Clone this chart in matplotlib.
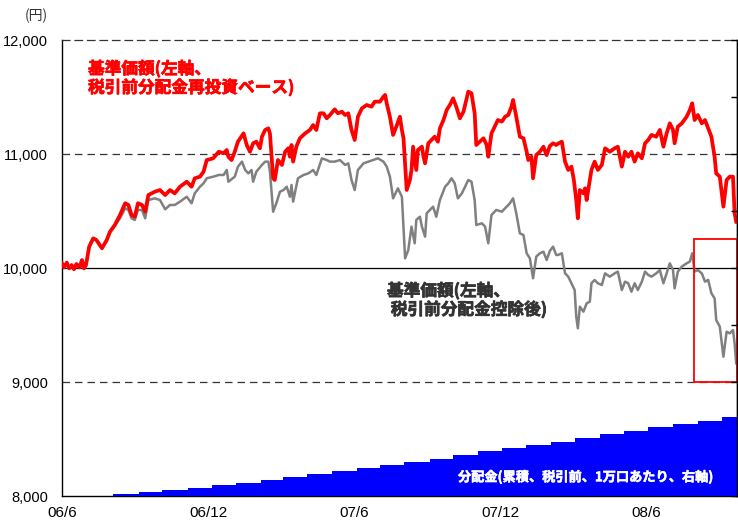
import matplotlib
matplotlib.use("Agg")
import matplotlib.pyplot as plt
import matplotlib.dates as mdates
import matplotlib.patheffects as pe
from matplotlib.patches import Rectangle
from matplotlib.ticker import FuncFormatter
import numpy as np
import pandas as pd

plt.rcParams['font.family'] = ['Liberation Sans', 'Noto Sans CJK JP', 'DejaVu Sans']
CJK = ['Noto Sans CJK JP', 'DejaVu Sans']

START = pd.Timestamp('2006-06-01')
END = pd.Timestamp('2008-09-22')

# ---- base price, dividends reinvested (red): days since 2006-06-01, value (yen)
red_days = [0, 2.5, 6, 9, 12, 15, 18, 22, 25, 27.5, 30, 34, 39, 43, 50, 56, 60, 66, 72.5, 79, 83, 87, 91, 95, 100,
            104, 108, 116, 122.5, 129, 135, 141, 147.5, 156, 162, 166, 172.5, 177, 181, 189, 196, 202, 206,
            208, 212, 216, 220, 227, 231, 235, 239, 243, 247.5, 250, 254, 258, 260, 264, 266, 270, 275, 279, 283,
            285, 287, 289, 293, 297.5, 304, 310, 314, 318, 322.5, 327, 331, 335, 341, 345, 350, 354, 358, 362,
            366, 370, 375, 381, 387, 391, 397.5, 402, 404, 406,
            410, 414, 418, 422.5, 425, 427, 431, 435, 437, 439, 443, 445, 450, 452, 454, 458, 462, 466, 470,
            472.5, 477, 481, 485, 489, 493, 497.5, 502, 506, 508, 512, 516, 518, 522.5, 527, 531, 533, 537, 541,
            545, 550, 554, 558, 562, 564, 568, 572.5, 577, 581, 583, 587, 589, 593, 597.5, 602, 606, 610, 614, 618,
            620, 625, 629, 633, 637, 640, 643, 645, 647.5, 652, 654, 656, 658, 662, 666, 670, 675, 679, 685, 691,
            695, 700, 704, 708, 712, 716, 720, 725, 729, 733, 737, 743, 747.5, 752, 756, 760, 764, 766, 770, 775,
            781, 785, 788, 791, 795, 800, 804, 808, 812, 816, 818, 822.5, 827, 831, 835, 839, 841, 843]
red_vals = [10041, 10006, 10047, 9997, 10026, 9989, 10035, 10006, 10070, 9997, 10026, 10187, 10260, 10246, 10173,
            10246, 10318, 10377, 10465, 10568, 10553, 10465, 10450, 10568, 10553, 10494, 10640, 10669, 10684, 10640,
            10684, 10655, 10713, 10757, 10713, 10787, 10801, 10845, 10947, 10962, 11020, 11006, 11035,
            10976, 10947, 11020, 11108, 11181, 11079, 11020, 11094, 11108, 11050, 11152, 11211, 11225, 11181, 10787,
            10772, 10947, 10904, 11020, 11050, 10976, 11079, 10933, 11064, 11138, 11181, 11211, 11254, 11211, 11357,
            11357, 11313, 11342, 11392, 11357, 11371, 11342, 11357, 11211, 11123, 11327, 11401, 11430, 11415, 11459,
            11459, 11503, 11518, 11445,
            11327, 11167, 11240, 11327, 11211, 11138, 10684, 10772, 10860, 11064, 10860, 11035, 11064, 10976, 10918,
            11094, 11123, 11152, 11108, 11225, 11298, 11386, 11430, 11488, 11415, 11313, 11371, 11488, 11547, 11532,
            11357, 11079, 11108, 11138, 11079, 10976, 11181, 11240, 11298, 11284, 11327, 11342, 11415, 11474, 11327,
            11152, 11138, 11020, 10947, 10976, 10787, 10991, 11020, 11064, 10990, 11070, 11094, 11079,
            11090, 11108, 10933, 10860, 10889, 10772, 10596, 10436, 10684, 10655, 10699, 10596, 10684, 10860, 10933,
            10860, 10904, 11050, 11020, 11050, 11064, 10889, 11020, 10976, 11020, 10933, 11006, 10962, 11094, 11123,
            11167, 11152, 11211, 11064, 11181, 11269, 11211, 11094, 11240, 11269, 11327, 11386, 11445, 11298, 11342,
            11269, 11298, 11225, 11152, 10976, 10830, 10801, 10538, 10772, 10801, 10801, 10480, 10406]

# ---- base price after distributions (gray)
gray_days = [0, 2.5, 6, 9, 12, 15, 18, 22, 25, 27.5, 30, 34, 39, 43, 50, 56, 60, 66, 72.5, 79, 83, 87, 91, 95, 100,
             104, 108, 116, 122.5, 129, 135, 141, 147.5, 156, 162, 166, 172.5, 177, 181, 189, 196, 202, 206, 208,
             216, 220, 225, 229, 233, 237, 239, 243, 250, 254, 258, 260, 264, 268, 272.5, 277, 281, 285, 287, 289,
             295, 302, 308, 314, 318, 325, 331, 335, 341, 347.5, 354, 358, 362, 366, 370, 377, 383, 389, 395, 402,
             406,
             410, 414, 420, 425, 429, 433, 437, 441, 443, 447.5, 450, 454, 456, 460, 464, 468, 472.5, 479, 483, 487,
             491, 495, 500, 504, 508, 512, 516, 518, 525, 529, 533, 537, 543, 550, 554, 560, 564, 568, 572.5, 577,
             581, 585, 589, 593, 597.5, 602, 606, 610, 614, 618,
             620, 625, 629, 633, 637, 641, 643, 645, 647.5, 652, 656, 660, 662, 666, 670, 675, 679, 685, 691, 695,
             700, 704, 708, 712, 716, 720, 725, 729, 733, 737, 743, 747.5, 752, 756, 760, 764, 766, 770, 775, 781,
             785, 788, 791, 795, 800, 804, 808, 812, 816, 818, 822.5, 827, 831, 835, 839, 841, 843]
gray_vals = [10041, 10006, 10047, 9997, 10026, 9989, 10035, 10006, 10070, 9997, 10026, 10187, 10260, 10246, 10173,
             10246, 10318, 10370, 10436, 10524, 10509, 10436, 10421, 10509, 10509, 10436, 10596, 10611, 10596, 10515,
             10553, 10553, 10582, 10625, 10568, 10655, 10713, 10743, 10787, 10801, 10816, 10816, 10860, 10757,
             10801, 10889, 10933, 10860, 10830, 10860, 10757, 10845, 10904, 10933, 10933, 10845, 10494, 10568, 10669,
             10684, 10713, 10625, 10728, 10582, 10787, 10816, 10830, 10860, 10816, 10962, 10947, 10933, 10933, 10947,
             10904, 10918, 10772, 10684, 10860, 10918, 10933, 10947, 10962, 10933, 10889,
             10801, 10611, 10699, 10625, 10085, 10158, 10363, 10217, 10421, 10450, 10363, 10275, 10480, 10509, 10538,
             10450, 10596, 10713, 10743, 10787, 10743, 10611, 10655, 10713, 10772, 10757, 10596, 10377, 10392, 10363,
             10217, 10465, 10509, 10494, 10524, 10568, 10611, 10480, 10304, 10289, 10129, 10085, 9910, 10100, 10129,
             10143, 10070, 10150, 10187, 10114,
             10114, 10129, 9953, 9924, 9866, 9807, 9573, 9471, 9661, 9617, 9690, 9705, 9866, 9895, 9866, 9851, 9953,
             9924, 9953, 9968, 9807, 9880, 9866, 9792, 9866, 9807, 9880, 9968, 9939, 9924, 9953, 9982, 9866, 9953,
             10041, 9982, 9822, 9968, 10012, 10041, 10056, 10129, 9968, 9982, 9953, 9880, 9895, 9778, 9734, 9544,
             9485, 9222, 9441, 9427, 9456, 9339, 9164]

# ---- cumulative distributions (right axis, yen per 10,000 units)
dist_dates = ['2006-08-04', '2006-09-05', '2006-10-04', '2006-11-05', '2006-12-05', '2007-01-04', '2007-02-05',
              '2007-03-04', '2007-04-03', '2007-05-04', '2007-06-05', '2007-07-04', '2007-08-03', '2007-09-04',
              '2007-10-03', '2007-11-03', '2007-12-03', '2008-01-02', '2008-02-03', '2008-03-04', '2008-04-04',
              '2008-05-04', '2008-06-03', '2008-07-04', '2008-08-04', '2008-09-03']
dist_cum = [15, 35, 53, 73, 94, 117, 138, 164, 190, 217, 243, 269, 298, 327, 360, 392, 418, 447, 476, 509, 541,
            573, 602, 631, 660, 690]

y_ticks = [8000, 9000, 10000, 11000, 12000]
x_tick_dates = ['2006-06-01', '2006-12-01', '2007-06-01', '2007-12-01', '2008-06-01']
x_tick_labels = ['06/6', '06/12', '07/6', '07/12', '08/6']

red_x = START + pd.to_timedelta(red_days, unit='D')
gray_x = START + pd.to_timedelta(gray_days, unit='D')

fig = plt.figure(figsize=(7.38, 5.26), dpi=100)
W, H = 738, 526
ax = fig.add_axes([62 / W, 30 / H, 675 / W, 456 / H])
ax.set_xlim(START, END)
ax.set_ylim(8000, 12000)

# grid / reference lines
for v in (9000, 11000):
    ax.axhline(v, color='#333333', lw=0.9, ls=(0, (6, 4)), zorder=1)
ax.axhline(10000, color='black', lw=0.9, zorder=1)

ax.plot(gray_x, gray_vals, color='#808080', lw=1.8, zorder=3, solid_joinstyle='round')
ax.plot(red_x, red_vals, color='#FF0000', lw=2.7, zorder=4, solid_joinstyle='round')

# highlight rectangle
rx0 = mdates.date2num(pd.Timestamp('2008-07-30'))
rx1 = mdates.date2num(END)
ax.add_patch(Rectangle((rx0, 9000), rx1 - rx0, 1254, fill=False, edgecolor='#FF0000', lw=1.3,
                       zorder=5, clip_on=False))

ax.set_yticks(y_ticks)
ax.yaxis.set_major_formatter(FuncFormatter(lambda v, p: f"{int(v):,}"))
ax.tick_params(axis='y', length=0, pad=10, labelsize=10.5, colors='black')
ax.set_xticks(pd.to_datetime(x_tick_dates))
ax.set_xticklabels(x_tick_labels)
ax.tick_params(axis='x', length=0, pad=7, labelsize=11)
for s in ('left', 'bottom', 'right'):
    ax.spines[s].set_color('black')
    ax.spines[s].set_linewidth(1.0)
ax.spines['top'].set_linestyle((0, (6, 4)))
ax.spines['top'].set_color('#333333')
ax.spines['top'].set_linewidth(0.9)

# right axis: cumulative distributions
ax2 = ax.twinx()
ax2.set_ylim(0, 4000)
ax2.set_xlim(START, END)
step_x = [START] + list(pd.to_datetime(dist_dates)) + [END]
step_y = [0] + dist_cum + [dist_cum[-1]]
ax2.fill_between(step_x, 0, step_y, step='post', color='#0000FF', lw=0, zorder=2)
ax2.set_yticks(np.arange(0, 4001, 500))
ax2.tick_params(axis='y', direction='in', length=4, labelright=False, width=1)
for s in ('top', 'left', 'bottom'):
    ax2.spines[s].set_visible(False)
ax2.spines['right'].set_linewidth(1.0)

# texts
fig.text(88 / W, 1 - 60 / H, '基準価額(左軸、\n税引前分配金再投資ベース)', color='#FF0000',
         fontsize=12, fontweight='bold', family=CJK, va='top', ha='left', linespacing=1.05,
         path_effects=[pe.withStroke(linewidth=0.5, foreground='#FF0000')])
fig.text(387 / W, 1 - 282 / H, '基準価額(左軸、\n 税引前分配金控除後)', color='#333333',
         fontsize=12, fontweight='bold', family=CJK, va='top', ha='left', linespacing=1.05,
         path_effects=[pe.withStroke(linewidth=0.5, foreground='#333333')])
fig.text(458 / W, 1 - 477 / H, '分配金(累積、税引前、1万口あたり、右軸)', color='white',
         fontsize=9.5, fontweight='bold', family=CJK, va='center', ha='left', zorder=10,
         path_effects=[pe.withStroke(linewidth=0.4, foreground='white')])
fig.text(25 / W, 1 - 16 / H, '(円)', color='#333333', fontsize=10, family=CJK, va='center', ha='left')

fig.savefig('out.png', dpi=100)
